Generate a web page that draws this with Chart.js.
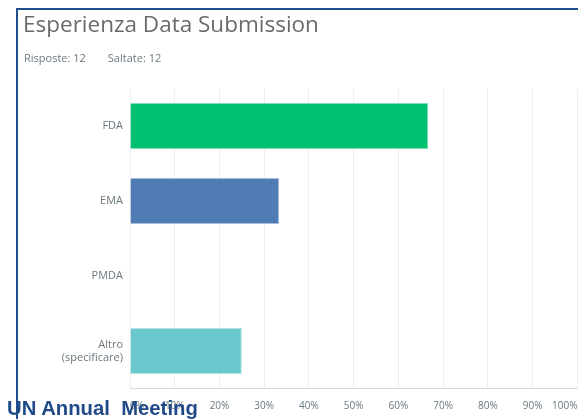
<!DOCTYPE html>
<html>
<head>
<meta charset="utf-8">
<script src="https://cdn.jsdelivr.net/npm/chart.js@4"></script>
<style>
    html, body { margin: 0; padding: 0; background: #fff; }
    #wrap { position: relative; width: 578px; height: 419px; overflow: hidden; }
    #grafico { position: absolute; left: 0; top: 0; }
    .borde-top { position: absolute; left: 16px; top: 8px; width: 562px; height: 2px; background: #1f4e8c; }
    .borde-left { position: absolute; left: 16px; top: 8px; width: 2px; height: 411px; background: #1f4e8c; }
    #titulo { position: absolute; left: 23px; top: 8px; font: 400 22.5px "Open Sans", sans-serif; color: #6a6a6a; white-space: nowrap; }
    #resumen { position: absolute; left: 24px; top: 50px; font: 11px "Open Sans", sans-serif; color: #6b787f; white-space: nowrap; }
    #resumen span + span { margin-left: 22px; }
    #marca { position: absolute; left: 7px; top: 397px; font: bold 20.3px "Liberation Sans", Arial, sans-serif; color: #1f4a87; white-space: pre; }
</style>
</head>
<body>
<div id="wrap">
    <canvas id="grafico" width="578" height="419"></canvas>
    <div class="borde-top"></div>
    <div class="borde-left"></div>
    <div id="titulo">Esperienza Data Submission</div>
    <div id="resumen"><span>Risposte: 12</span><span>Saltate: 12</span></div>
    <div id="marca">UN Annual  Meeting</div>
</div>
<script>
// Datos
const categorias = ['FDA', 'EMA', 'PMDA', ['Altro', '(specificare)']];
const porcentajes = [66.67, 33.33, 0, 25];
const coloresBarra = ['#00bf6f', '#507cb6', '#9d5cb7', '#6bc8cd'];
const coloresBorde = ['#7fdfb7', '#a7bdda', '#cdaddb', '#b5e3e6'];

const ctx = document.getElementById('grafico').getContext('2d');

new Chart(ctx, {
    type: 'bar',
    data: {
        labels: categorias,
        datasets: [{
            data: porcentajes,
            backgroundColor: coloresBarra,
            borderColor: coloresBorde,
            borderWidth: 1,
            barPercentage: 0.613,
            categoryPercentage: 1
        }]
    },
    options: {
        indexAxis: 'y',
        responsive: false,
        animation: false,
        layout: {
            padding: { left: 0, right: 0.6, top: 88.5, bottom: 0 }
        },
        plugins: {
            legend: { display: false },
            tooltip: { enabled: false }
        },
        scales: {
            x: {
                min: 0,
                max: 100,
                ticks: {
                    stepSize: 10,
                    align: 'inner',
                    padding: 12,
                    color: '#6b787f',
                    font: { family: 'Open Sans', size: 10 },
                    callback: function(value) {
                        return value + '%';
                    }
                },
                grid: { color: '#eeeeee', drawTicks: false },
                border: { color: '#d9d9d9', width: 1 },
                afterFit: function(scale) {
                    scale.height = 30.5;
                    // sin reservar espacio para la etiqueta 100%
                    scale.paddingLeft = 0;
                    scale.paddingRight = 0;
                }
            },
            y: {
                ticks: {
                    padding: 7,
                    color: '#6b787f',
                    font: { family: 'Open Sans', size: 11, lineHeight: 1.2 }
                },
                grid: { display: false, drawTicks: false },
                border: { display: false },
                afterFit: function(scale) { scale.width = 130; }
            }
        }
    }
});
</script>
</body>
</html>
